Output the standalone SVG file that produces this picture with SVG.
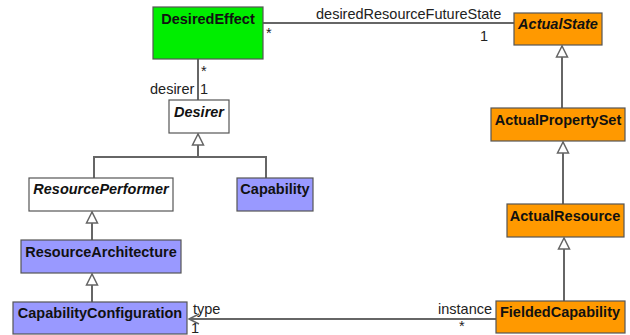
<svg xmlns="http://www.w3.org/2000/svg" width="630" height="335" viewBox="0 0 630 335">
<defs>
<style>
.box{stroke:#555;stroke-width:1.2}
.white{fill:#fff}.green{fill:#00ee00}.orange{fill:#ff9900}.purple{fill:#9999ff}
.name{font-family:"Liberation Sans",Arial,sans-serif;font-size:14.5px;font-weight:bold;fill:#111;text-anchor:middle}
.abs{font-style:italic}
.lbl{font-family:"Liberation Sans",Arial,sans-serif;font-size:14.5px;fill:#222}
.ln{stroke:#666;stroke-width:2;fill:none}
</style>
<marker id="gen" markerWidth="14" markerHeight="14" refX="12" refY="6" orient="auto" markerUnits="userSpaceOnUse" viewBox="0 0 14 12">
<path d="M12,6 L1,0.5 L1,11.5 Z" fill="#fff" stroke="#666" stroke-width="1.5"/>
</marker>
<marker id="open" markerWidth="14" markerHeight="14" refX="11" refY="6" orient="auto" markerUnits="userSpaceOnUse" viewBox="0 0 14 12">
<path d="M1,1 L11,6 L1,11" fill="none" stroke="#666" stroke-width="1.5"/>
</marker>
</defs>
<rect width="630" height="335" fill="#fff"/>
<g id="connectors">
<line class="ln" x1="263" y1="23" x2="514" y2="23"/>
<line class="ln" x1="198" y1="59" x2="198" y2="100"/>
<polyline class="ln" points="94,178 94,157 266,157 266,178"/>
<line class="ln" x1="198" y1="157" x2="198" y2="134" marker-end="url(#gen)"/>
<line class="ln" x1="92" y1="240" x2="92" y2="212" marker-end="url(#gen)"/>
<line class="ln" x1="92" y1="302" x2="92" y2="274" marker-end="url(#gen)"/>
<line class="ln" x1="562" y1="108" x2="562" y2="46" marker-end="url(#gen)"/>
<line class="ln" x1="563" y1="204" x2="563" y2="142" marker-end="url(#gen)"/>
<line class="ln" x1="564" y1="301" x2="564" y2="238" marker-end="url(#gen)"/>
<line class="ln" x1="496" y1="319" x2="189" y2="319" marker-end="url(#open)"/>
<text class="lbl" x="316" y="19">desiredResourceFutureState</text>
<text class="lbl" x="266" y="38">*</text>
<text class="lbl" x="480" y="41">1</text>
<text class="lbl" x="201" y="76">*</text>
<text class="lbl" x="150" y="94">desirer</text>
<text class="lbl" x="200" y="94">1</text>
<text class="lbl" x="193" y="314">type</text>
<text class="lbl" x="191" y="333">1</text>
<text class="lbl" x="459" y="331">*</text>
<text class="lbl" x="438" y="314">instance</text>
</g>
<g id="DesiredEffect"><rect class="box green" x="153" y="7" width="110" height="52"/><text class="name" x="208" y="24">DesiredEffect</text></g>
<g id="ActualState"><rect class="box orange" x="514" y="13" width="88" height="32"/><text class="name abs" x="558" y="29">ActualState</text></g>
<g id="Desirer"><rect class="box white" x="169" y="100" width="60" height="33"/><text class="name abs" x="199" y="117">Desirer</text></g>
<g id="ActualPropertySet"><rect class="box orange" x="491" y="108" width="134" height="33"/><text class="name" x="558" y="125">ActualPropertySet</text></g>
<g id="ResourcePerformer"><rect class="box white" x="29" y="178" width="144" height="33"/><text class="name abs" x="101" y="194">ResourcePerformer</text></g>
<g id="Capability"><rect class="box purple" x="237" y="178" width="76" height="33"/><text class="name" x="275" y="194">Capability</text></g>
<g id="ActualResource"><rect class="box orange" x="507" y="204" width="117" height="33"/><text class="name" x="565" y="221">ActualResource</text></g>
<g id="ResourceArchitecture"><rect class="box purple" x="21" y="240" width="160" height="33"/><text class="name" x="101" y="257">ResourceArchitecture</text></g>
<g id="CapabilityConfiguration"><rect class="box purple" x="13" y="302" width="174" height="32"/><text class="name" x="100" y="318">CapabilityConfiguration</text></g>
<g id="FieldedCapability"><rect class="box orange" x="496" y="301" width="129" height="32"/><text class="name" x="560" y="317">FieldedCapability</text></g>
</svg>
